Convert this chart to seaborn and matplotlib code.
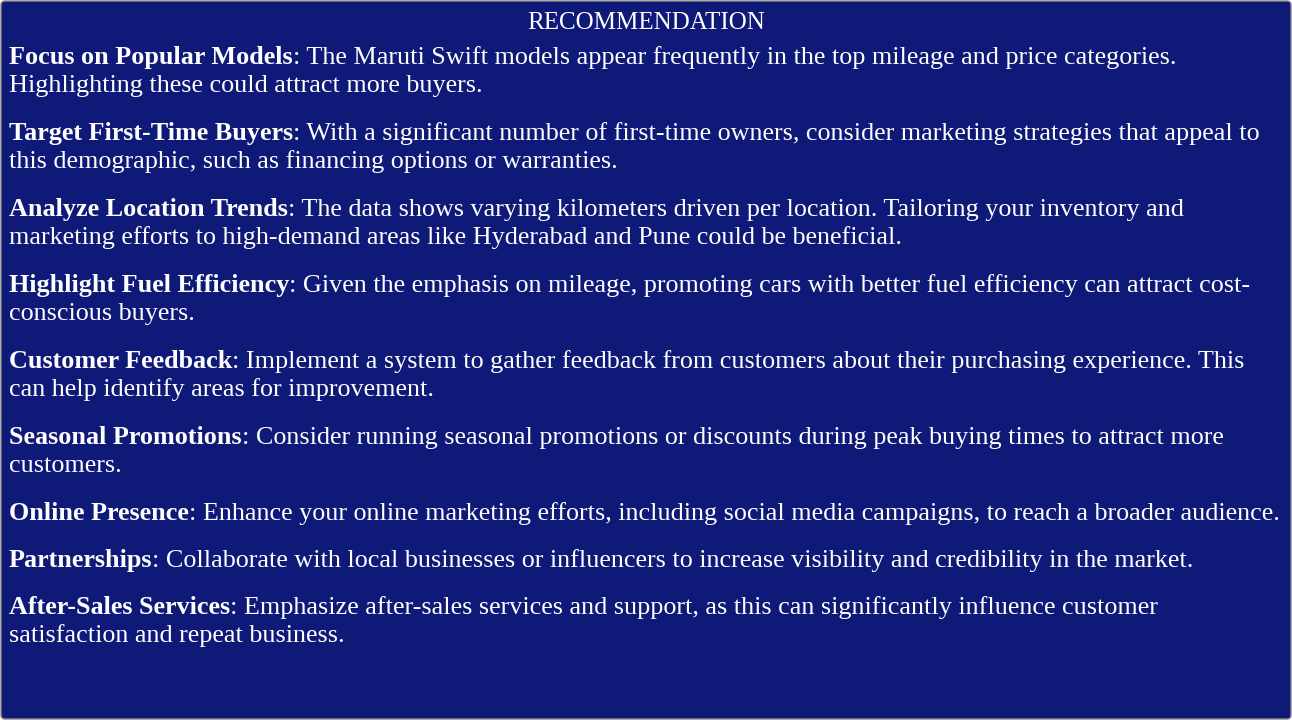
import matplotlib
matplotlib.use("Agg")
import matplotlib.pyplot as plt
import seaborn as sns
from matplotlib.patches import FancyBboxPatch

title = "RECOMMENDATION"
headings = [
    "Focus on Popular Models",
    "Target First-Time Buyers",
    "Analyze Location Trends",
    "Highlight Fuel Efficiency",
    "Customer Feedback",
    "Seasonal Promotions",
    "Online Presence",
    "Partnerships",
    "After-Sales Services",
]
first_lines = [
    ": The Maruti Swift models appear frequently in the top mileage and price categories.",
    ": With a significant number of first-time owners, consider marketing strategies that appeal to",
    ": The data shows varying kilometers driven per location. Tailoring your inventory and",
    ": Given the emphasis on mileage, promoting cars with better fuel efficiency can attract cost-",
    ": Implement a system to gather feedback from customers about their purchasing experience. This",
    ": Consider running seasonal promotions or discounts during peak buying times to attract more",
    ": Enhance your online marketing efforts, including social media campaigns, to reach a broader audience.",
    ": Collaborate with local businesses or influencers to increase visibility and credibility in the market.",
    ": Emphasize after-sales services and support, as this can significantly influence customer",
]
second_lines = [
    "Highlighting these could attract more buyers.",
    "this demographic, such as financing options or warranties.",
    "marketing efforts to high-demand areas like Hyderabad and Pune could be beneficial.",
    "conscious buyers.",
    "can help identify areas for improvement.",
    "customers.",
    "",
    "",
    "satisfaction and repeat business.",
]

sns.set_theme(style="white")
plt.rcParams['font.family'] = ['Liberation Serif', 'DejaVu Serif']

W, H = 1292, 720
bg = "#0e1978"
fig = plt.figure(figsize=(W / 100, H / 100), dpi=100)
fig.patch.set_facecolor("white")
ax = fig.add_axes([0, 0, 1, 1])
ax.set_xlim(0, W)
ax.set_ylim(H, 0)
ax.axis("off")
ax.add_patch(FancyBboxPatch((1, 1), W - 2, H - 2, boxstyle="round,pad=0,rounding_size=4",
                            facecolor=bg, edgecolor="#888888", lw=1))

fs = 18.8
ax.text(W / 2, 29, title, color="white", fontsize=18, ha="center", va="baseline")

fig.canvas.draw()
renderer = fig.canvas.get_renderer()
inv = ax.transData.inverted()

y = 64
x0 = 9
for head, l1, l2 in zip(headings, first_lines, second_lines):
    t = ax.text(x0, y, head, color="white", fontsize=fs, fontweight="bold", ha="left", va="baseline")
    bb = t.get_window_extent(renderer)
    xend = inv.transform((bb.x1, bb.y0))[0]
    ax.text(xend, y, l1, color="white", fontsize=fs, ha="left", va="baseline")
    if l2:
        ax.text(x0, y + 28, l2, color="white", fontsize=fs, ha="left", va="baseline")
        y += 76
    else:
        y += 47

fig.savefig("out.png", dpi=100, facecolor="white")
